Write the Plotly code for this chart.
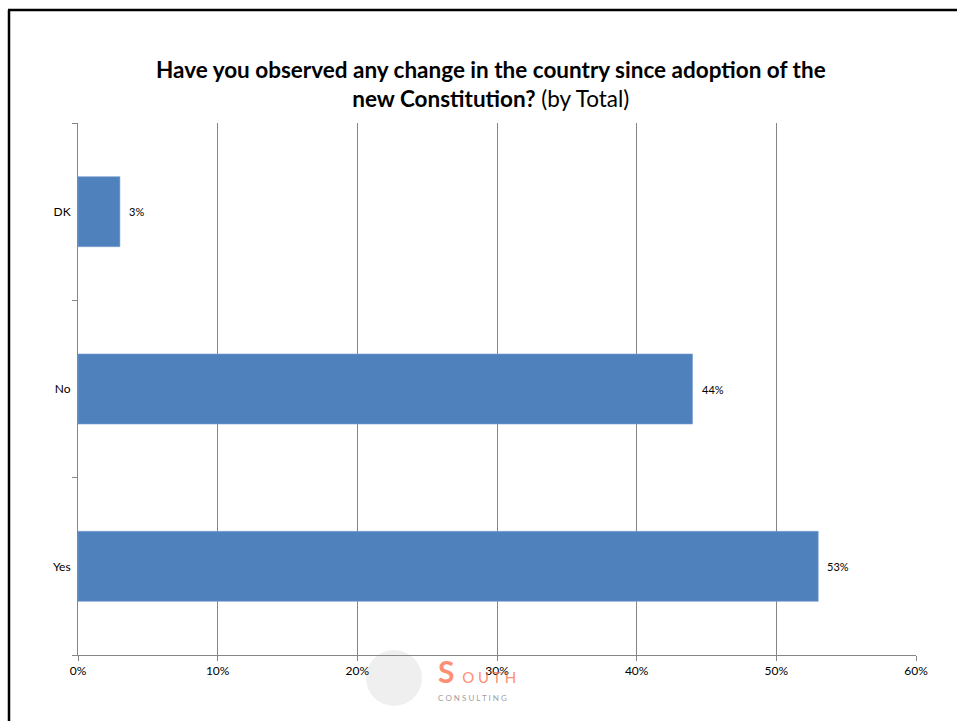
import plotly.graph_objects as go

categories = ["Yes", "No", "DK"]
values = [53, 44, 3]
value_labels = ["53%", "44%", "3%"]
x_ticks = [0, 10, 20, 30, 40, 50, 60]
x_tick_labels = ["0%", "10%", "20%", "30%", "40%", "50%", "60%"]

W, H = 957, 721
PL, PR, PT, PB = 78, 916, 123, 655  # plot area in page pixels
L, T, R, B = PL, PT, W - PR, H - PB
pw, ph = W - L - R, H - T - B

def px(x):
    return (x - L) / pw

def py(y):
    return (H - B - y) / ph

FONT = "Lato, 'Open Sans', sans-serif"

fig = go.Figure(go.Bar(
    y=categories, x=values, orientation="h",
    marker=dict(color="#4F81BD", line=dict(color="#7A9FD0", width=0.6)),
    width=0.395,
))

annotations = [
    dict(x=v, y=c, xref="x", yref="y", text=t, showarrow=False,
         xanchor="left", yanchor="middle", xshift=7,
         font=dict(size=11, color="#000000", family=FONT))
    for c, v, t in zip(categories, values, value_labels)
]
annotations += [
    dict(x=px(491), y=py(84), xref="paper", yref="paper",
         text="<b>Have you observed any change in the country since adoption of the</b><br>"
              "<b>new Constitution?</b> (by Total)",
         showarrow=False, xanchor="center", yanchor="middle",
         font=dict(size=22.5, color="#000000", family=FONT)),
    dict(x=px(436), y=py(671), xref="paper", yref="paper",
         text="<b>S</b> <span style='font-size:15px'>O U T H</span>",
         showarrow=False, xanchor="left", yanchor="middle",
         font=dict(size=30, color="#FF6A45", family=FONT), opacity=0.75),
    dict(x=px(436), y=py(698), xref="paper", yref="paper",
         text="C O N S U L T I N G",
         showarrow=False, xanchor="left", yanchor="middle",
         font=dict(size=8, color="#A0A0A0", family=FONT)),
]

fig.update_layout(
    width=W, height=H,
    margin=dict(l=L, r=R, t=T, b=B),
    paper_bgcolor="white", plot_bgcolor="white",
    showlegend=False,
    font=dict(family=FONT, size=12, color="#000000"),
    xaxis=dict(
        range=[0, 60], tickvals=x_ticks, ticktext=x_tick_labels,
        showgrid=True, gridcolor="#868686", gridwidth=1,
        showline=True, linecolor="#868686", linewidth=1,
        ticks="outside", ticklen=5, tickcolor="#868686",
        zeroline=False, tickfont=dict(size=12), fixedrange=True,
    ),
    yaxis=dict(
        type="category", categoryorder="array", categoryarray=categories,
        showline=True, linecolor="#868686", linewidth=1,
        ticks="outside", ticklen=5, tickcolor="#868686",
        tickson="boundaries", showgrid=False,
        tickfont=dict(size=12), ticklabelstandoff=4,
    ),
    annotations=annotations,
    shapes=[
        dict(type="line", xref="paper", yref="paper",
             x0=px(9), x1=px(9), y0=py(H + 5), y1=py(10),
             line=dict(color="black", width=2.5)),
        dict(type="line", xref="paper", yref="paper",
             x0=px(8), x1=px(W + 5), y0=py(10), y1=py(10),
             line=dict(color="black", width=2.5)),
        dict(type="circle", xref="paper", yref="paper",
             x0=px(366), x1=px(422), y0=py(650), y1=py(706),
             fillcolor="#E4E4E4", line=dict(width=0), opacity=0.6, layer="below"),
    ],
)

fig.write_html(
    "out.html",
    config={"displayModeBar": False},
    post_script="document.body.style.margin='0';document.body.style.overflow='hidden';",
)
